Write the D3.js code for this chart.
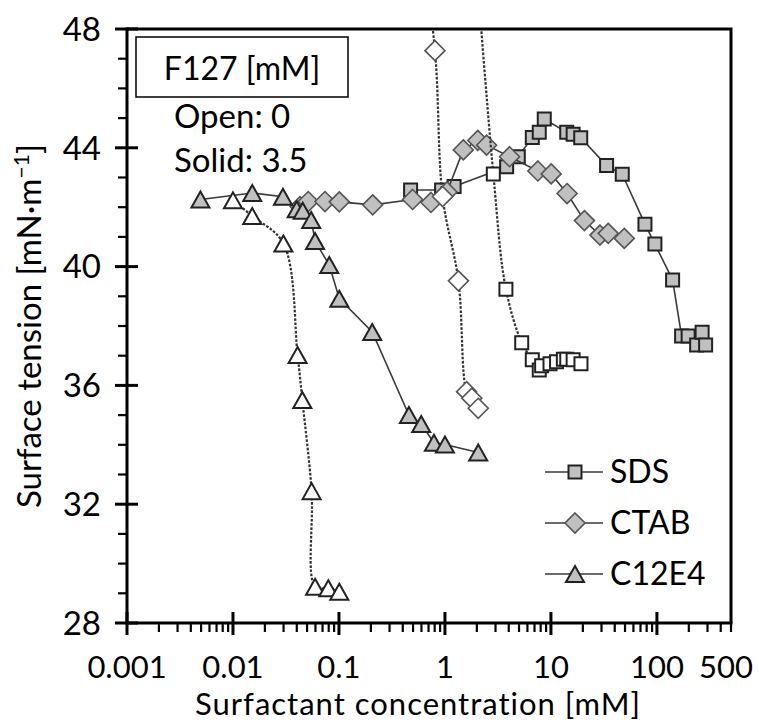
<!DOCTYPE html>
<html>
<head>
<meta charset="utf-8">
<script src="https://cdn.jsdelivr.net/npm/d3@7"></script>
<style>
  html, body { margin: 0; padding: 0; background: #fff; }
  svg { display: block; }
  text { font-family: Lato, "Open Sans", sans-serif; fill: #000; }
</style>
</head>
<body>
<svg id="chart" width="759" height="722"></svg>
<script>
// Surface tension vs surfactant concentration, [mM, mN/m] pairs.
// Filled markers: with 3.5 mM F127; open markers: without F127.
const sdsSolid = [
  [0.474, 42.58], [0.93, 42.58], [1.22, 42.70], [3.82, 43.36], [4.92, 43.70],
  [6.67, 44.35], [7.76, 44.52], [8.65, 44.97], [14.1, 44.52], [16.2, 44.46],
  [19.1, 44.34], [33.5, 43.40], [47.1, 43.11], [77.1, 41.43], [95.7, 40.76],
  [140.6, 39.55], [171, 37.66], [197, 37.66], [237, 37.36], [267, 37.79], [288, 37.36]
];
const sdsOpen = [
  [1.8, 52.0], [2.86, 43.12], [3.76, 39.24], [5.30, 37.44], [6.67, 36.86],
  [7.76, 36.52], [8.17, 36.66], [9.8, 36.73], [11.3, 36.80], [13.1, 36.88],
  [14.1, 36.88], [16.2, 36.86], [19.2, 36.73]
];
const ctabSolid = [
  [0.0429, 42.02], [0.0513, 42.19], [0.0738, 42.19], [0.1007, 42.18], [0.208, 42.08],
  [0.495, 42.26], [0.738, 42.16], [1.045, 42.51], [1.49, 43.93], [2.04, 44.25],
  [2.47, 44.09], [4.07, 43.70], [7.53, 43.22], [10.05, 43.12], [14.2, 42.46],
  [20.7, 41.55], [29.0, 41.06], [34.7, 41.12], [49.2, 40.95]
];
const ctabOpen = [
  [0.55, 52.0], [0.805, 47.27], [0.95, 42.36], [1.34, 39.52], [1.60, 35.79],
  [1.79, 35.57], [2.06, 35.23]
];
const c12e4Solid = [
  [0.00493, 42.26], [0.0152, 42.48], [0.0296, 42.35], [0.0399, 41.93], [0.0455, 41.88],
  [0.0547, 41.57], [0.0595, 40.86], [0.0810, 40.05], [0.1007, 38.92], [0.206, 37.80],
  [0.457, 35.00], [0.597, 34.70], [0.787, 34.07], [1.0, 34.01], [2.06, 33.74]
];
const c12e4Open = [
  [0.01, 42.23], [0.0152, 41.70], [0.0299, 40.78], [0.0407, 37.02], [0.0451, 35.51],
  [0.0552, 32.44], [0.0595, 29.22], [0.0793, 29.17], [0.1007, 29.05]
];

const xMajorTicks = [0.001, 0.01, 0.1, 1, 10, 100, 500];
const yMajorTicks = [28, 32, 36, 40, 44, 48];
const legendNames = ["SDS", "CTAB", "C12E4"];
const noteLines = ["F127 [mM]", "Open: 0", "Solid: 3.5"];

const svg = d3.select("#chart");
const pLeft = 127, pRight = 731, pTop = 29, pBottom = 623;
const fs = 33;

const x = d3.scaleLog().domain([0.001, 500]).range([pLeft, pRight]);
const y = d3.scaleLinear().domain([28, 48]).range([pBottom, pTop]);

svg.append("clipPath").attr("id", "plotClip")
  .append("rect").attr("x", pLeft).attr("y", pTop)
  .attr("width", pRight - pLeft).attr("height", pBottom - pTop);

// Marker shapes centred on the data point
const shapes = {
  square: () => `M${-6.5},${-6.5}h13v13h-13Z`,
  diamond: () => `M0,-10L10,0L0,10L-10,0Z`,
  triangle: () => `M0,-8L9,8L-9,8Z`
};

const solidLine = d3.line().x(d => x(d[0])).y(d => y(d[1]));
const smoothLine = d3.line().x(d => x(d[0])).y(d => y(d[1])).curve(d3.curveCatmullRom.alpha(0.5));

const plot = svg.append("g");

function drawSeries(data, shape, open) {
  const g = plot.append("g");
  g.append("path")
    .attr("clip-path", "url(#plotClip)")
    .attr("d", open ? smoothLine(data) : solidLine(data))
    .attr("fill", "none")
    .attr("stroke", open ? "#333" : "#3a3a3a")
    .attr("stroke-width", open ? 2.2 : 1.6)
    .attr("stroke-dasharray", open ? "2.6,1.6" : null);
  const visible = data.filter(d => d[1] <= 48 && d[1] >= 28);
  g.selectAll("path.m").data(visible).join("path")
    .attr("class", "m")
    .attr("transform", d => `translate(${x(d[0])},${y(d[1])})`)
    .attr("d", shapes[shape]())
    .attr("fill", open ? "#fff" : "#c0c0c0")
    .attr("stroke", shape === "diamond" ? "#555" : "#222")
    .attr("stroke-width", shape === "diamond" ? 1.6 : 2);
}

drawSeries(sdsSolid, "square", false);
drawSeries(ctabSolid, "diamond", false);
drawSeries(c12e4Solid, "triangle", false);
drawSeries(sdsOpen, "square", true);
drawSeries(ctabOpen, "diamond", true);
drawSeries(c12e4Open, "triangle", true);

// Frame: top and right edges
svg.append("path")
  .attr("d", `M${pLeft},${pTop}H${pRight}V${pBottom}`)
  .attr("fill", "none").attr("stroke", "#000").attr("stroke-width", 3);

// X axis
const xMinor = [];
for (let e = -3; e <= 2; e++) {
  for (let m = 2; m <= 9; m++) {
    const v = m * Math.pow(10, e);
    if (v <= 500) xMinor.push(v);
  }
}
const xAxisG = svg.append("g");
xAxisG.selectAll("line.minor").data(xMinor).join("line")
  .attr("class", "minor")
  .attr("x1", d => x(d)).attr("x2", d => x(d))
  .attr("y1", pBottom).attr("y2", pBottom + 9)
  .attr("stroke", "#000").attr("stroke-width", 2.2);
xAxisG.selectAll("line.major").data(xMajorTicks.filter(d => d !== 500)).join("line")
  .attr("class", "major")
  .attr("x1", d => x(d)).attr("x2", d => x(d))
  .attr("y1", pBottom - 11).attr("y2", pBottom + 12)
  .attr("stroke", "#000").attr("stroke-width", 3);
xAxisG.append("line")
  .attr("x1", pLeft - 1.5).attr("x2", pRight + 1.5)
  .attr("y1", pBottom).attr("y2", pBottom)
  .attr("stroke", "#000").attr("stroke-width", 3);
xAxisG.selectAll("text").data(xMajorTicks).join("text")
  .attr("x", d => x(d) + (d === 500 ? -5 : 0))
  .attr("y", 677.5)
  .attr("text-anchor", "middle")
  .attr("font-size", 31)
  .text(d => d3.format("~g")(d));

// Y axis
const yMinor = d3.range(28, 49, 1).filter(v => v % 4 !== 0);
const yAxisG = svg.append("g");
yAxisG.selectAll("line.minor").data(yMinor).join("line")
  .attr("class", "minor")
  .attr("x1", pLeft - 9).attr("x2", pLeft)
  .attr("y1", d => y(d)).attr("y2", d => y(d))
  .attr("stroke", "#000").attr("stroke-width", 2.2);
yAxisG.selectAll("line.major").data(yMajorTicks).join("line")
  .attr("class", "major")
  .attr("x1", pLeft - 12).attr("x2", pLeft + 11)
  .attr("y1", d => y(d)).attr("y2", d => y(d))
  .attr("stroke", "#000").attr("stroke-width", 3);
yAxisG.append("line")
  .attr("x1", pLeft).attr("x2", pLeft)
  .attr("y1", pTop - 1.5).attr("y2", pBottom + 1.5)
  .attr("stroke", "#000").attr("stroke-width", 3);
yAxisG.selectAll("text").data(yMajorTicks).join("text")
  .attr("x", 101)
  .attr("y", d => y(d))
  .attr("dy", "0.36em")
  .attr("text-anchor", "end")
  .attr("font-size", fs)
  .text(d => d);

// Axis titles
svg.append("text")
  .attr("x", 418).attr("y", 715)
  .attr("text-anchor", "middle")
  .attr("font-size", 31)
  .attr("letter-spacing", 1)
  .text("Surfactant concentration [mM]");

const yTitle = svg.append("text")
  .attr("transform", `translate(41,${(pTop + pBottom) / 2}) rotate(-90)`)
  .attr("text-anchor", "middle")
  .attr("font-size", fs);
yTitle.append("tspan").text("Surface tension [mN·m");
yTitle.append("tspan").attr("font-size", 21).attr("dy", -12).text("−1");
yTitle.append("tspan").attr("dy", 12).text("]");

// Note box
svg.append("rect")
  .attr("x", 136).attr("y", 37).attr("width", 212).attr("height", 60)
  .attr("fill", "#fff").attr("stroke", "#000").attr("stroke-width", 1.5);
svg.append("text").attr("x", 242).attr("y", 80).attr("text-anchor", "middle")
  .attr("font-size", 32).text(noteLines[0]);
svg.append("text").attr("x", 174).attr("y", 128).attr("font-size", 33).text(noteLines[1]);
svg.append("text").attr("x", 174).attr("y", 172).attr("font-size", 33).text(noteLines[2]);

// Legend
const legendShapes = ["square", "diamond", "triangle"];
const legendY = [472, 523, 574];
legendNames.forEach((name, i) => {
  const g = svg.append("g").attr("transform", `translate(0,${legendY[i]})`);
  g.append("line").attr("x1", 545).attr("x2", 603).attr("y1", 0).attr("y2", 0)
    .attr("stroke", "#3a3a3a").attr("stroke-width", 1.6);
  g.append("path").attr("transform", "translate(575,0)")
    .attr("d", shapes[legendShapes[i]]())
    .attr("fill", "#c0c0c0")
    .attr("stroke", legendShapes[i] === "diamond" ? "#555" : "#222")
    .attr("stroke-width", legendShapes[i] === "diamond" ? 1.6 : 2);
  g.append("text").attr("x", 610).attr("y", 11).attr("font-size", 32).text(name);
});
</script>
</body>
</html>
